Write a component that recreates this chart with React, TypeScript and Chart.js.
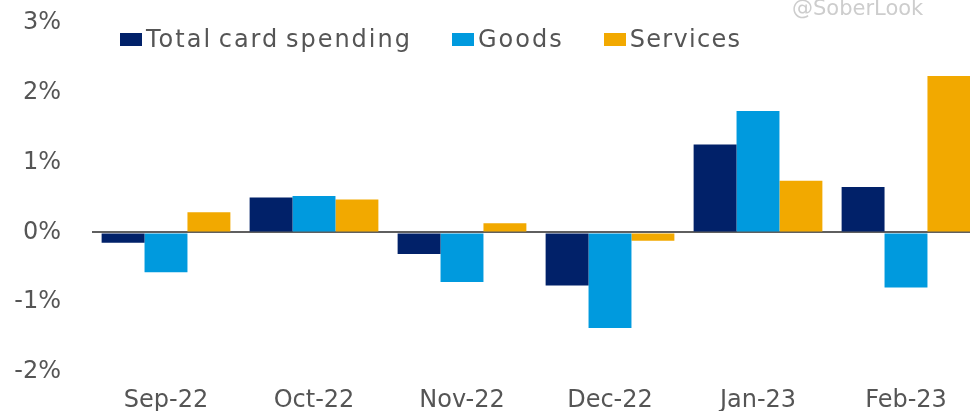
import React, { useEffect, useRef } from 'react';
import { Chart, registerables } from 'chart.js';

Chart.register(...registerables);

const categories = ['Sep-22', 'Oct-22', 'Nov-22', 'Dec-22', 'Jan-23', 'Feb-23'];
const totalCardSpending = [-0.15, 0.5, -0.31, -0.76, 1.26, 0.65];
const goods = [-0.57, 0.52, -0.71, -1.37, 1.74, -0.79];
const services = [0.29, 0.47, 0.13, -0.12, 0.74, 2.24];
const yTickValues = [-2, -1, 0, 1, 2, 3];
const seriesNames = ['Total card spending', 'Goods', 'Services'];
const watermark = '@SoberLook';

const COLORS = ['#012169', '#009ADE', '#F2A900'];
const TEXT = '#555555';
const FONT = "'DejaVu Sans', Verdana, sans-serif";

export default function App() {
  const canvasRef = useRef<HTMLCanvasElement | null>(null);

  useEffect(() => {
    if (!canvasRef.current) return;
    const series = [totalCardSpending, goods, services];
    const chart = new Chart(canvasRef.current, {
      type: 'bar',
      data: {
        labels: categories,
        datasets: series.map((d, i) => ({
          label: seriesNames[i],
          data: d,
          backgroundColor: COLORS[i],
          borderWidth: 0,
          categoryPercentage: 0.87,
          barPercentage: 1,
        })),
      },
      options: {
        animation: false,
        responsive: false,
        maintainAspectRatio: false,
        layout: { autoPadding: false, padding: { top: 23, left: 0, right: 5, bottom: 0 } },
        plugins: {
          legend: { display: false },
          tooltip: { enabled: false },
        },
        scales: {
          x: {
            grid: { display: false },
            border: { display: false },
            ticks: {
              font: { family: FONT, size: 24 },
              color: TEXT,
              padding: 6,
              maxRotation: 0,
            },
            afterFit: (s: any) => {
              s.height = 39;
            },
          },
          y: {
            min: -2,
            max: 3,
            afterBuildTicks: (s: any) => {
              s.ticks = yTickValues.map((v) => ({ value: v }));
            },
            grid: {
              color: (ctx: any) => (ctx.tick && ctx.tick.value === 0 ? '#5f5f5f' : 'rgba(0,0,0,0)'),
              lineWidth: 2,
              drawTicks: false,
            },
            border: { display: false },
            ticks: {
              font: { family: FONT, size: 24 },
              color: TEXT,
              padding: 31,
              callback: (v: any) => `${v}%`,
            },
            afterFit: (s: any) => {
              s.width = 92;
              s.paddingTop = 0;
              s.paddingBottom = 0;
            },
          },
        },
      },
    });
    return () => chart.destroy();
  }, []);

  return (
    <div
      style={{
        position: 'fixed',
        left: 0,
        top: 0,
        width: 970,
        height: 411,
        overflow: 'hidden',
        background: '#ffffff',
      }}
    >
      <canvas ref={canvasRef} width={985} height={411} style={{ position: 'absolute', left: 0, top: 0 }} />
      <div
        style={{
          position: 'absolute',
          left: 792,
          top: -2,
          fontFamily: FONT,
          fontSize: 21,
          lineHeight: '21px',
          color: '#cdcdcd',
          whiteSpace: 'nowrap',
        }}
      >
        {watermark}
      </div>
      <div
        style={{
          position: 'absolute',
          left: 120,
          top: 25,
          display: 'flex',
          alignItems: 'center',
          gap: 40,
          fontFamily: FONT,
          fontSize: 24,
          lineHeight: '28px',
          color: TEXT,
          letterSpacing: '2px',
          wordSpacing: '-3px',
          whiteSpace: 'nowrap',
        }}
      >
        {seriesNames.map((name, i) => (
          <div key={name} style={{ display: 'flex', alignItems: 'center' }}>
            <span
              style={{
                display: 'inline-block',
                width: 22,
                height: 13,
                background: COLORS[i],
                marginRight: 4,
              }}
            />
            <span style={{ letterSpacing: i === 2 ? '1.3px' : undefined }}>{name}</span>
          </div>
        ))}
      </div>
    </div>
  );
}
